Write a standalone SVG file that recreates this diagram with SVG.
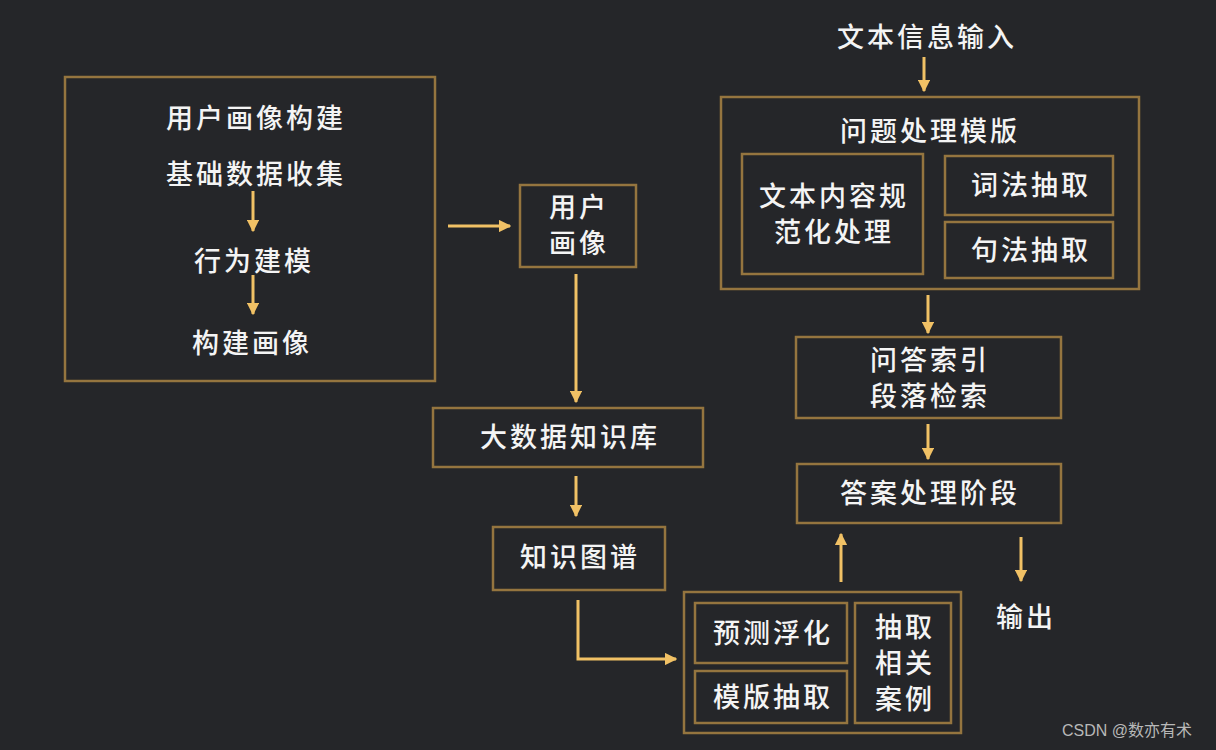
<svg xmlns="http://www.w3.org/2000/svg" width="1216" height="750" viewBox="0 0 1216 750">
<style>
.bx{fill:none;stroke:#95753f;stroke-width:2.5}
.t{font-family:"Noto Sans CJK SC","Noto Sans",sans-serif;font-size:27px;fill:#f4f4f4;text-anchor:middle;letter-spacing:3px;font-weight:500}
.c{fill:none;stroke:#f1c165;stroke-width:3}
.wm{font-family:"Liberation Sans","Noto Sans CJK SC",sans-serif;font-size:16px;fill:#b8b8b8}
</style>
<defs>
<marker id="ah" viewBox="0 0 10 10" refX="9" refY="5" markerWidth="4.2" markerHeight="4.2" orient="auto" markerUnits="strokeWidth">
<path d="M0,0 L10,5 L0,10 Z" fill="#f1c165"/>
</marker>
</defs>
<rect width="1216" height="750" fill="#252629"/>

<g id="user-profile-build">
<rect class="bx" x="65" y="77" width="370" height="304"/>
<text class="t" x="256" y="128">用户画像构建</text>
<text class="t" x="256" y="184">基础数据收集</text>
<text class="t" x="254" y="271">行为建模</text>
<text class="t" x="252" y="353">构建画像</text>
</g>
<g id="user-profile">
<rect class="bx" x="520" y="185" width="116" height="82"/>
<text class="t" x="579" y="217">用户</text>
<text class="t" x="579" y="253">画像</text>
</g>
<g id="bigdata-kb">
<rect class="bx" x="433" y="408" width="270" height="59"/>
<text class="t" x="570" y="447">大数据知识库</text>
</g>
<g id="knowledge-graph">
<rect class="bx" x="493" y="527" width="172" height="63"/>
<text class="t" x="580" y="567">知识图谱</text>
</g>
<g id="bottom-group">
<rect class="bx" x="684" y="592" width="277" height="141"/>
<rect class="bx" x="695" y="603" width="152" height="60"/>
<text class="t" x="773" y="643">预测浮化</text>
<rect class="bx" x="695" y="671" width="152" height="52"/>
<text class="t" x="773" y="707">模版抽取</text>
<rect class="bx" x="855" y="603" width="96" height="120"/>
<text class="t" x="905" y="637">抽取</text>
<text class="t" x="905" y="673">相关</text>
<text class="t" x="905" y="709">案例</text>
</g>
<g id="text-input">
<text class="t" x="927" y="47">文本信息输入</text>
</g>
<g id="question-template">
<rect class="bx" x="721" y="97" width="418" height="192"/>
<text class="t" x="930" y="141">问题处理模版</text>
<rect class="bx" x="742" y="154" width="181" height="120"/>
<text class="t" x="834" y="206">文本内容规</text>
<text class="t" x="834" y="242">范化处理</text>
<rect class="bx" x="945" y="156" width="168" height="59"/>
<text class="t" x="1031" y="195">词法抽取</text>
<rect class="bx" x="945" y="222" width="168" height="56"/>
<text class="t" x="1031" y="260">句法抽取</text>
</g>
<g id="qa-index">
<rect class="bx" x="796" y="337" width="265" height="81"/>
<text class="t" x="930" y="370">问答索引</text>
<text class="t" x="930" y="406">段落检索</text>
</g>
<g id="answer-stage">
<rect class="bx" x="797" y="464" width="264" height="59"/>
<text class="t" x="930" y="503">答案处理阶段</text>
</g>
<g id="output">
<text class="t" x="1026" y="627">输出</text>
</g>

<g id="connectors">
<line class="c" x1="253" y1="191" x2="253" y2="231" marker-end="url(#ah)"/>
<line class="c" x1="253" y1="275" x2="253" y2="314" marker-end="url(#ah)"/>
<line class="c" x1="448" y1="226" x2="510" y2="226" marker-end="url(#ah)"/>
<line class="c" x1="576" y1="274" x2="576" y2="402" marker-end="url(#ah)"/>
<line class="c" x1="576" y1="476" x2="576" y2="516" marker-end="url(#ah)"/>
<polyline class="c" points="578,600 578,659 676,659" marker-end="url(#ah)"/>
<line class="c" x1="841" y1="582" x2="841" y2="534" marker-end="url(#ah)"/>
<line class="c" x1="1021" y1="537" x2="1021" y2="581" marker-end="url(#ah)"/>
<line class="c" x1="924" y1="57" x2="924" y2="91" marker-end="url(#ah)"/>
<line class="c" x1="928" y1="295" x2="928" y2="333" marker-end="url(#ah)"/>
<line class="c" x1="928" y1="424" x2="928" y2="459" marker-end="url(#ah)"/>
</g>
<text class="wm" x="1062" y="736">CSDN @数亦有术</text>
</svg>
